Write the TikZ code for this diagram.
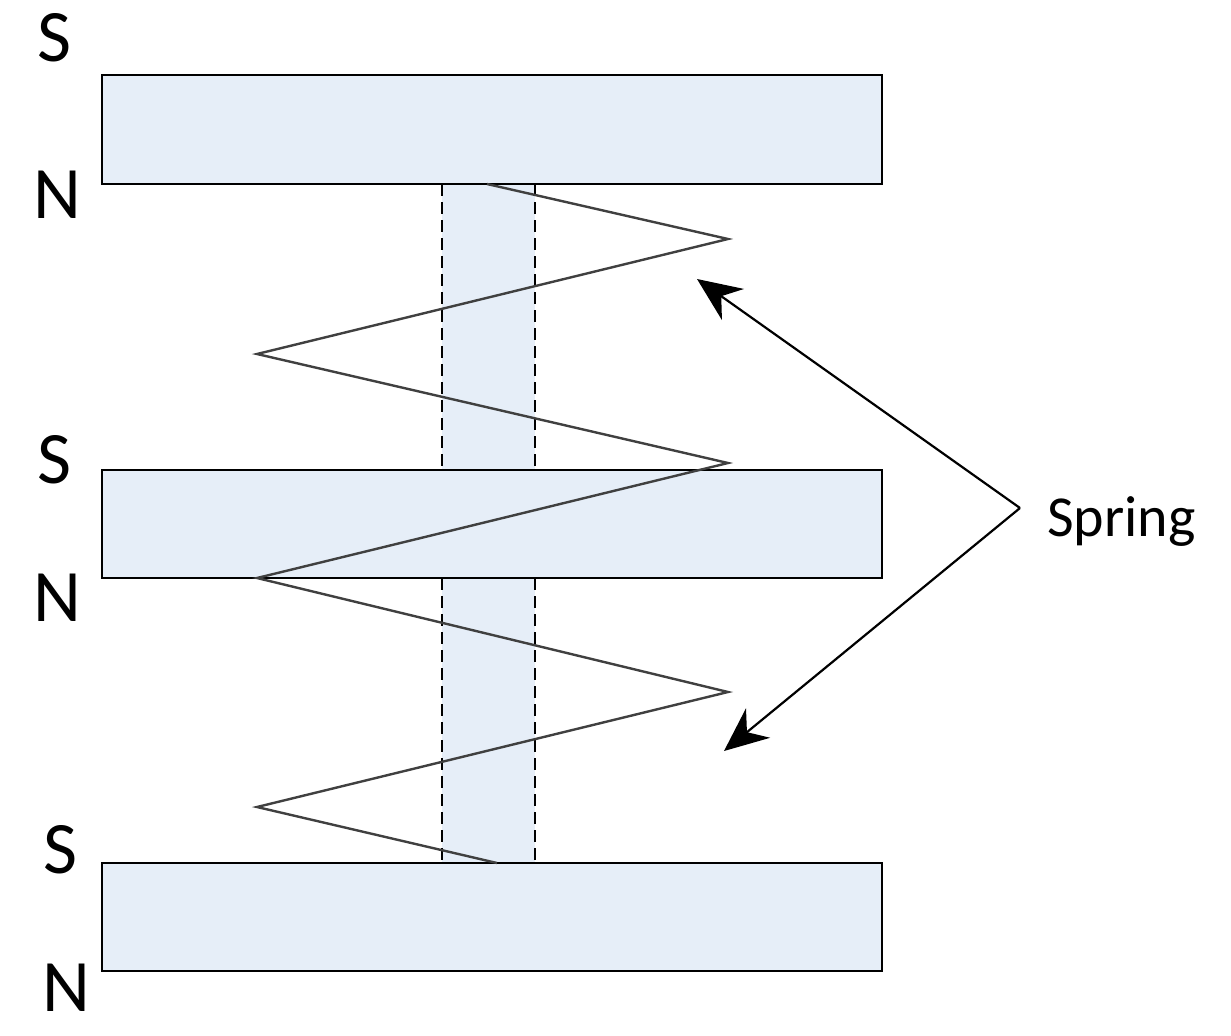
\documentclass[tikz,border=0pt]{standalone}
\usepackage{fontspec}
\setmainfont{Carlito}
\usetikzlibrary{arrows.meta}
\definecolor{fillb}{HTML}{E6EEF8}
\definecolor{spr}{HTML}{404040}
\begin{document}
\begin{tikzpicture}[x=0.5pt,y=-0.5pt,
  mag/.style={draw=black,line width=1.3pt,fill=fillb},
  pole/.style={font=\fontsize{37}{37}\selectfont},
  arr/.style={line width=1.1pt,-{Stealth[length=22pt,width=19pt]}}]
\useasboundingbox (0,0) rectangle (1231,1035);
\fill[fillb] (442,184) rectangle (535,863);
\draw[dash pattern=on 6pt off 3pt,line width=1pt] (442,184) -- (442,470) (535,184) -- (535,470)
  (442,578) -- (442,863) (535,578) -- (535,863);
\node[mag,minimum width=390pt,minimum height=54.5pt,inner sep=0pt] (m1) at (492,129.5) {};
\node[mag,minimum width=390pt,minimum height=54pt,inner sep=0pt] (m2) at (492,524) {};
\node[mag,minimum width=390pt,minimum height=54pt,inner sep=0pt] (m3) at (492,917) {};
\draw[spr,line width=1.2pt] (487,184) -- (728,239) -- (257,354) -- (728,463) -- (257,578) -- (728,692) -- (257,807) -- (497,863);
\node[pole] (s1) at (55,38) {S};
\node[pole] (n1) at (57,195) {N};
\node[pole] (s2) at (55,460) {S};
\node[pole] (n2) at (57,598) {N};
\node[pole] (s3) at (60,850) {S};
\node[pole] (n3) at (66,988) {N};
\node[font=\fontsize{29}{29}\selectfont,anchor=west] (sp) at (1040,522) {Spring};
\coordinate (c) at (1020,508);
\coordinate (t1) at (697,279);
\coordinate (t2) at (724,751);
\draw[arr] (c) -- (t1);
\draw[arr] (c) -- (t2);
\end{tikzpicture}
\end{document}
